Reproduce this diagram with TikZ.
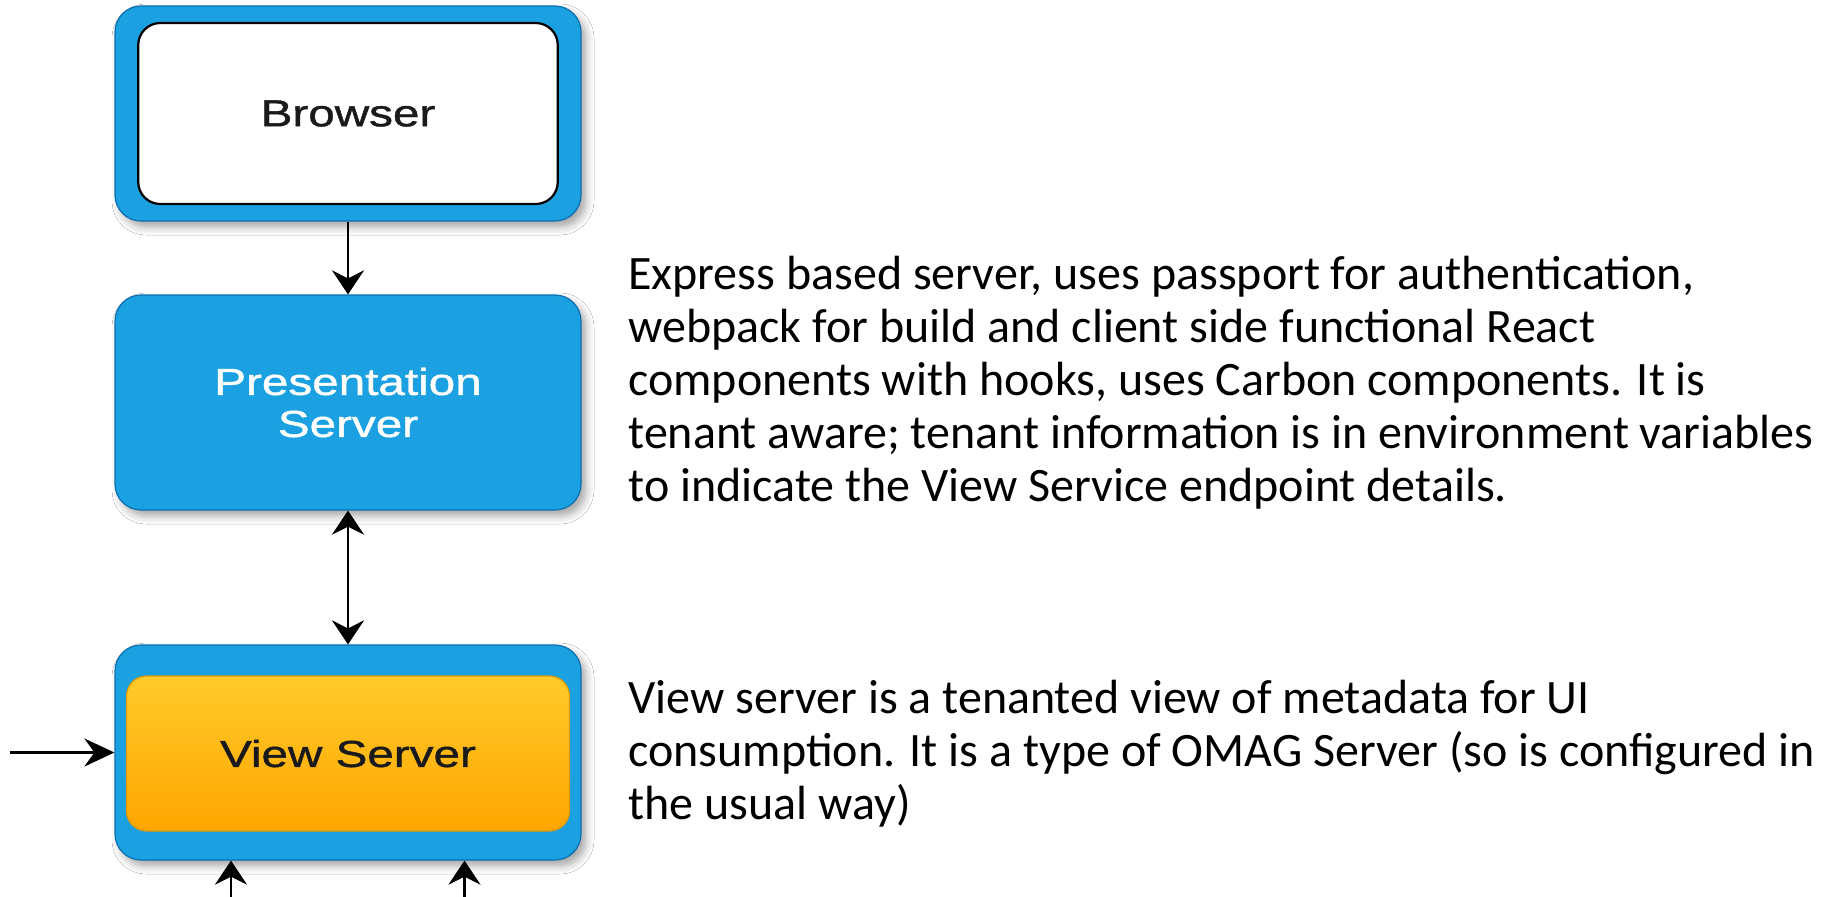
\documentclass[tikz,border=0pt]{standalone}
\usepackage{fontspec}
\newfontfamily\boxfont[FakeStretch=1.27, FakeBold=1.2]{Liberation Sans}
\newfontfamily\notefont{Carlito}
\usetikzlibrary{arrows.meta,shadows.blur}

\definecolor{tierblue}{HTML}{1BA1E2}
\definecolor{tieredge}{HTML}{0A6FAE}
\definecolor{viewtop}{HTML}{FFCB2A}
\definecolor{viewbottom}{HTML}{FFA500}
\definecolor{viewedge}{HTML}{D99A08}
\definecolor{labelgray}{HTML}{1A1A1A}

\tikzset{
  tier/.style={rounded corners=13pt, fill=tierblue, draw=tieredge, line width=0.6pt,
    minimum width=233pt, minimum height=107.5pt, inner sep=0pt,
    blur shadow={shadow xshift=2.5pt, shadow yshift=-3pt, shadow blur radius=4pt,
      shadow opacity=35}},
  whiteinset/.style={rounded corners=11pt, fill=white, draw=black, line width=1.1pt,
    minimum width=209.75pt, minimum height=90.5pt, inner sep=0pt},
  orangeinset/.style={rounded corners=10pt, top color=viewtop, bottom color=viewbottom,
    draw=viewedge, line width=0.6pt, minimum width=221.5pt, minimum height=77.5pt,
    inner sep=0pt},
  boxlabel/.style={font=\boxfont\fontsize{18.75}{21}\selectfont, align=center,
    text=labelgray},
  note/.style={anchor=base west, inner sep=0pt,
    font=\notefont\fontsize{24}{26.6}\selectfont},
  vtip/.tip={Stealth[length=12pt, width=16pt, inset=4pt]},
  htip/.tip={Stealth[length=15pt, width=14pt, inset=5pt]},
  link/.style={line width=1.3pt, draw=black, -vtip},
  sidelink/.style={line width=1.3pt, draw=black, -htip},
  duplex/.style={line width=1.3pt, draw=black, vtip-vtip}
}

\begin{document}
\begin{tikzpicture}[x=0.5pt, y=-0.5pt]
  \useasboundingbox[fill=white] (0,0) rectangle (1821,896);

  % browser tier
  \node[tier] (browser) at (348,113.5) {};
  \node[whiteinset, boxlabel] (browserin) at (348,113.5) {Browser};

  % presentation server
  \node[tier, boxlabel, text=white] (pres) at (348,402.5) {Presentation\\Server};

  % view server
  \node[tier] (view) at (348,752.5) {};
  \node[orangeinset, boxlabel] (viewin) at (348,753.5) {View Server};

  % incoming connections from outside the picture
  \coordinate (leftin) at (10,752.5);
  \coordinate (lowa) at (231,900);
  \coordinate (lowb) at (464.5,900);

  \draw[link] (browser.south) -- (pres.north);
  \draw[duplex] (pres.south) -- (view.north);
  \draw[sidelink] (leftin) -- (view.west);
  \draw[link] (lowa) -- (lowa |- view.south);
  \draw[link] (lowb) -- (lowb |- view.south);

  % descriptions
  \node[note] (presnote) at (628,289) {\parbox[t]{620pt}{\raggedright
    Express based server, uses passport for authentication,\\
    webpack for build and client side functional React\\
    components with hooks, uses Carbon components. It is\\
    tenant aware; tenant information is in environment variables\\
    to indicate the View Service endpoint details.}};

  \node[note] (viewnote) at (628,713.4) {\parbox[t]{620pt}{\raggedright
    View server is a tenanted view of metadata for UI\\
    consumption. It is a type of OMAG Server (so is configured in\\
    the usual way)}};
\end{tikzpicture}
\end{document}
